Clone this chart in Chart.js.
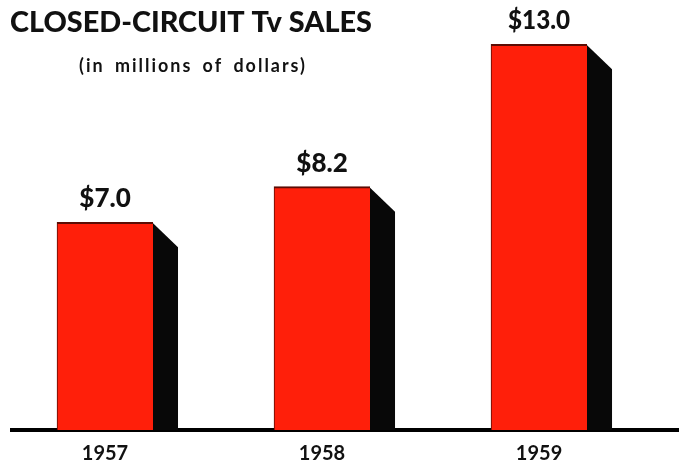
<!DOCTYPE html>
<html>
<head>
<meta charset="utf-8">
<script src="https://cdn.jsdelivr.net/npm/chart.js@4/dist/chart.umd.min.js"></script>
<style>
  html, body { margin: 0; padding: 0; background: #fff; }
  #wrap { width: 679px; height: 463px; }
</style>
</head>
<body>
<div id="wrap"><canvas id="tvChart" width="679" height="463"></canvas></div>
<script>
// values
const years = ["1957", "1958", "1959"];
const sales = [7.0, 8.2, 13.0];
const titleText = "CLOSED-CIRCUIT Tv SALES";
const subtitleText = "(in millions of dollars)";

const RED = "#ff1f0a";
const FONT = "Lato, 'Open Sans', sans-serif";

// black "depth" block on the right of each bar
const shadowPlugin = {
  id: "shadow",
  beforeDatasetsDraw(chart) {
    const ctx = chart.ctx;
    const depth = 25;
    chart.getDatasetMeta(0).data.forEach((bar) => {
      const right = bar.x + bar.width / 2;
      ctx.save();
      ctx.fillStyle = "#080808";
      ctx.beginPath();
      ctx.moveTo(right - 1, bar.y);
      ctx.lineTo(right + depth, bar.y + depth);
      ctx.lineTo(right + depth, bar.base);
      ctx.lineTo(right - 1, bar.base);
      ctx.closePath();
      ctx.fill();
      ctx.restore();
    });
  },
};

// dollar labels above bars + title block
const labelPlugin = {
  id: "labels",
  afterDatasetsDraw(chart) {
    const ctx = chart.ctx;
    ctx.save();
    ctx.fillStyle = "#111";
    ctx.textAlign = "center";
    ctx.textBaseline = "alphabetic";
    ctx.font = `900 26px ${FONT}`;
    chart.getDatasetMeta(0).data.forEach((bar, i) => {
      ctx.fillText(`$${sales[i].toFixed(1)}`, bar.x, bar.y - 15, 62);
    });

    ctx.textAlign = "left";
    ctx.font = `900 29px ${FONT}`;
    ctx.fillText(titleText, 10, 32, 362);
    ctx.font = `bold 18px ${FONT}`;
    ctx.letterSpacing = "2px";
    ctx.wordSpacing = "4px";
    ctx.fillText(subtitleText, 79, 72, 228);
    ctx.restore();
  },
};

new Chart(document.getElementById("tvChart"), {
  type: "bar",
  data: {
    datasets: [{
      data: sales.map((v, i) => ({ x: i, y: v })),
      backgroundColor: RED,
      borderColor: "#5c0c04",
      borderWidth: { top: 2, left: 1, right: 0, bottom: 0 },
      borderSkipped: false,
      barThickness: 96,
    }],
  },
  options: {
    responsive: false,
    animation: false,
    layout: { padding: { left: 12, right: 0, top: 0, bottom: -15 } },
    plugins: { legend: { display: false }, tooltip: { enabled: false } },
    scales: {
      x: {
        type: "linear",
        offset: false,
        min: -0.4286,
        max: 2.645,
        grid: { display: false, drawTicks: false },
        border: { display: true, color: "#000", width: 4 },
        ticks: {
          stepSize: 1,
          includeBounds: false,
          autoSkip: false,
          maxRotation: 0,
          padding: 14,
          color: "#111",
          font: { family: FONT, size: 20, weight: "bold", lineHeight: 1 },
          callback: (v) => (Number.isInteger(v) && years[v] ? years[v] : ""),
        },
      },
      y: { display: false, min: 0, max: 14.49 },
    },
  },
  plugins: [shadowPlugin, labelPlugin],
});
</script>
</body>
</html>
